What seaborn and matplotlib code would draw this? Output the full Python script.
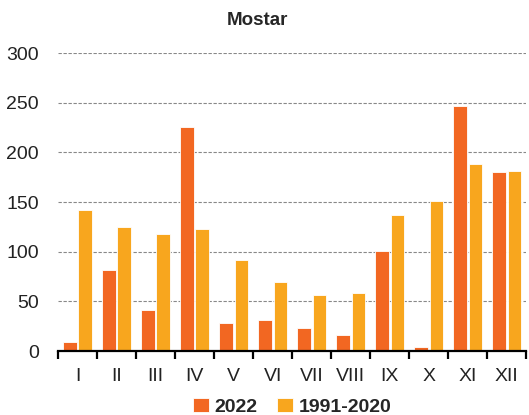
import numpy as np
import pandas as pd
import seaborn as sns
import matplotlib
matplotlib.use('Agg')
import matplotlib.pyplot as plt
from matplotlib.ticker import FixedLocator

months = ['I', 'II', 'III', 'IV', 'V', 'VI', 'VII', 'VIII', 'IX', 'X', 'XI', 'XII']
rain_2022 = [9, 82, 41, 226, 28, 31, 23, 16, 101, 4, 247, 180]
rain_norm = [142, 125, 118, 123, 92, 70, 56, 58, 137, 151, 188, 181]
series = ['2022', '1991-2020']
colors = ['#F26722', '#F8A61E']

df = pd.DataFrame({
    'month': months * 2,
    'value': rain_2022 + rain_norm,
    'series': [series[0]] * 12 + [series[1]] * 12,
})

sns.set_style('white')
plt.rcParams['font.family'] = ['Liberation Sans', 'DejaVu Sans']

fig = plt.figure(figsize=(5.29, 4.15), dpi=100)
ax = fig.add_axes([0.110, 0.154, 0.885, 0.718])

sns.barplot(data=df, x='month', y='value', hue='series', palette=colors,
            width=0.78, gap=0.1, edgecolor='white', linewidth=0.6,
            saturation=1, ax=ax, zorder=3)

ax.set_ylim(0, 300)
ax.set_xlim(-0.5, 11.5)
ax.set_yticks(range(0, 301, 50))
ax.yaxis.grid(True, linestyle=(0, (3, 1.5)), color='#888888', linewidth=0.8, zorder=0)
ax.xaxis.grid(False)
for s in ['top', 'right', 'left']:
    ax.spines[s].set_visible(False)
ax.spines['bottom'].set_color('black')
ax.spines['bottom'].set_linewidth(1.6)
ax.spines['bottom'].set_zorder(4)

ax.xaxis.set_minor_locator(FixedLocator(np.arange(-0.5, 12, 1)))
ax.tick_params(axis='x', which='major', bottom=False, length=0, pad=12,
               labelsize=14, colors='#222222')
ax.tick_params(axis='x', which='minor', bottom=True, length=6, width=1.6,
               color='black', direction='out')
ax.tick_params(axis='y', length=0, labelsize=14, pad=14, colors='#222222')
ax.set_xlabel('')
ax.set_ylabel('')
ax.set_title('Mostar', fontsize=13.5, fontweight='bold', x=0.425, pad=20)

ax.legend(loc='upper center', bbox_to_anchor=(0.5, -0.13), ncol=2, frameon=False,
          prop={'weight': 'bold', 'size': 14}, handlelength=0.8, handleheight=0.8,
          handletextpad=0.3, columnspacing=1.0, borderaxespad=0)

fig.savefig('out.png', dpi=100)
